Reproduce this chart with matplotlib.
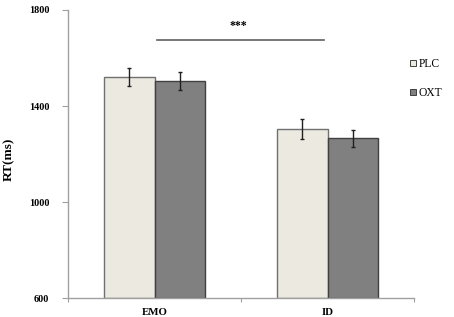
import matplotlib
matplotlib.use("Agg")
import matplotlib.pyplot as plt
import numpy as np
from matplotlib.patches import Patch

categories = ["EMO", "ID"]
groups = ["PLC", "OXT"]
plc_means = [1522, 1304]
oxt_means = [1504, 1265]
plc_err = [38, 40]
oxt_err = [36, 37]
yticks = [600, 1000, 1400, 1800]
sig_label = "***"
sig_y = 1675

plt.rcParams['font.family'] = ['Liberation Serif', 'DejaVu Serif']

fig = plt.figure(figsize=(4.54, 3.17), dpi=100)
ax = fig.add_axes([68/454, 1-298/317, 346/454, 288/317])

x = np.arange(len(categories)) + 0.5
w = 0.29
cols = ["#ECEAE0", "#808080"]
edges = ["#707070", "#404040"]
for i, (m, e) in enumerate([(plc_means, plc_err), (oxt_means, oxt_err)]):
    pos = x + (i - 0.5) * w
    ax.bar(pos, np.array(m) - 600, bottom=600, width=w, color=cols[i], edgecolor=edges[i], linewidth=1.0, zorder=2)
    ax.errorbar(pos, m, yerr=e, fmt='none', ecolor='#202020', elinewidth=1.0, capsize=1.6, capthick=1.0, zorder=3)

ax.set_xlim(0, 2)
ax.set_ylim(600, 1800)
ax.set_yticks(yticks)
ax.set_yticklabels([str(t) for t in yticks], fontweight='bold', fontsize=7.3)
ax.set_xticks([0, 1, 2], minor=False)
ax.set_xticklabels([])
ax.set_xticks(x, minor=True)
ax.set_xticklabels(categories, minor=True, fontweight='bold', fontsize=7.8)
ax.tick_params(axis='x', which='minor', length=0, pad=7)
ax.tick_params(axis='x', which='major', length=3, direction='out', color='#A0A0A0')
ax.tick_params(axis='y', length=4, color='#A0A0A0', pad=9.5)
for s in ['top', 'right']:
    ax.spines[s].set_visible(False)
for s in ['left', 'bottom']:
    ax.spines[s].set_color('#A0A0A0')
    ax.spines[s].set_linewidth(1.0)

ax.set_ylabel("RT(ms)", fontweight='bold', fontsize=9.5)
ax.yaxis.set_label_coords(-0.154, 0.48)

# significance line
ax.plot([0.513, 1.48], [sig_y, sig_y], color='#606060', linewidth=1.2, zorder=3)
ax.text(0.985, sig_y + 35, sig_label, ha='center', va='bottom', fontsize=8.5, fontweight='bold')

handles = [Patch(facecolor=cols[i], edgecolor='#404040', linewidth=0.7) for i in range(2)]
fig.legend(handles, groups, loc='upper left', bbox_to_anchor=(410/454, 1-58/317), frameon=False,
           fontsize=8.3, handlelength=0.5, handleheight=0.5, handletextpad=0.25, labelspacing=1.5,
           borderpad=0, borderaxespad=0)

fig.savefig("out.png", dpi=100)
